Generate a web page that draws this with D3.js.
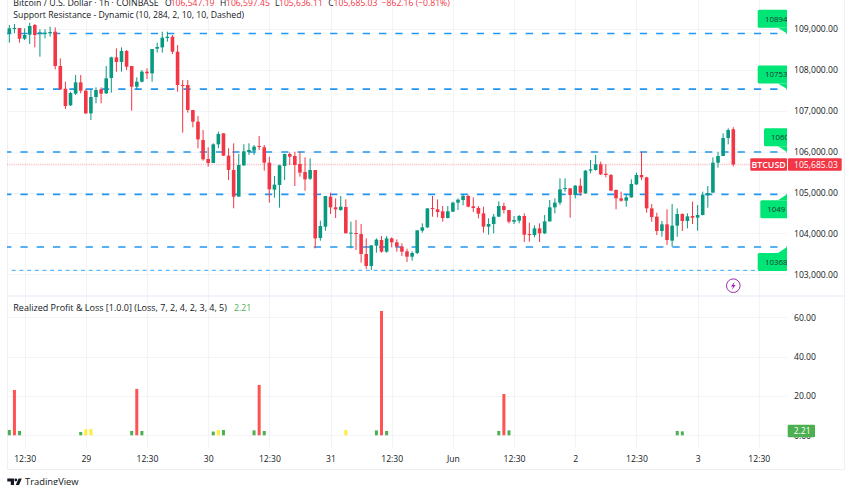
<!DOCTYPE html>
<html>
<head>
<meta charset="utf-8">
<title>BTCUSD</title>
<script src="https://cdn.jsdelivr.net/npm/d3@7/dist/d3.min.js"></script>
<style>
  html, body { margin: 0; padding: 0; background: #fff; overflow: hidden; }
  svg { display: block; font-family: "Open Sans", sans-serif; }
</style>
</head>
<body>
<div id="chart"></div>
<script>
// candles, one hour each
const opens = [
  108894,109008,109024,108763,108861,109097,108886,108877,108894,108934,
  108095,107540,107133,107418,107695,107491,106937,107336,107524,107426,
  107801,108307,108193,108462,108095,107589,107711,107956,107915,108519,
  108551,108780,108812,108445,107630,107630,107019,106733,106285,105821,
  105723,106179,106448,105902,105552,104899,105666,105992,106025,106139,
  106106,105731,105071,105185,105649,105942,105893,105698,105502,105339,
  105551,103888,104165,104899,104638,104572,104646,104002,104010,103985,
  103496,103203,103700,103839,103553,103879,103782,103676,103561,103431,
  103521,104067,104148,104621,104589,104540,104377,104532,104752,104817,
  104915,104662,104621,104491,104165,104230,104409,104670,104572,104287,
  104312,104426,103985,103961,104124,104002,104295,104638,104752,105090,
  105103,104940,105168,104980,105535,105551,105690,105461,105429,105062,
  104858,104801,104882,105200,105429,105372,104613,104410,104059,104222,
  103823,104190,104475,104304,104426,104385,104450,104931,104997,105730,
  105893,106334,106547.19
];
const highs = [
  109097,109122,109024,109016,109155,109122,108992,108992,109057,109040,
  108282,107711,107467,107875,107875,107524,107508,107573,107573,108095,
  108323,108527,108551,108486,108095,107817,107997,108038,108510,108665,
  108934,108934,108853,108608,107752,107752,107019,106872,106530,106106,
  106204,106489,106448,106082,106204,105943,106179,106204,106163,106383,
  106163,105878,105405,105680,105950,105980,105999,105999,105861,105836,
  105551,104312,104915,104996,104858,104915,104833,104287,104328,104230,
  103879,103708,103879,103936,103936,103904,103855,103757,103627,103561,
  104083,104246,104613,104915,104833,104670,104670,104776,104858,104964,
  104947,104882,104670,104654,104369,104475,104784,104752,104572,104426,
  104450,104491,104263,104197,104246,104450,104817,104858,105347,105348,
  105103,105184,105347,105551,105796,105918,105755,105690,105453,105078,
  105021,104964,105323,105486,105991,105388,104719,104507,104304,104589,
  104719,104613,104491,104491,104777,104695,105021,105160,105861,105999,
  106448,106570,106597.45
];
const lows = [
  108665,108894,108665,108731,108633,108551,108323,108771,108812,108013,
  107508,107043,107116,107385,107426,106921,106774,107182,107182,107410,
  107442,107956,107956,107997,107002,107524,107695,107777,107711,108421,
  108421,108690,108388,107467,106464,106953,106595,106081,105780,105633,
  105723,106082,105894,105307,104614,104899,105649,105919,105919,106041,
  105535,104753,104875,104630,105306,105673,105159,105388,105045,105306,
  103635,103822,104067,104475,104377,104556,104002,103635,103594,103284,
  103129,103105,103529,103529,103529,103659,103553,103447,103301,103333,
  103496,104018,104132,104409,104393,104287,104369,104524,104572,104687,
  104638,104524,104369,104018,103969,104002,104409,104491,104246,104230,
  104246,103790,103798,103904,103790,103985,104287,104491,104695,105020,
  104385,104858,104923,104964,105470,105535,105429,105372,105046,104589,
  104777,104654,104874,105184,105306,104507,104287,103961,103920,103717,
  103676,103920,104059,104124,104230,104067,104442,104630,104997,105608,
  105893,106179,105636.11
];
const closes = [
  109016,109024,108763,108853,109073,108853,108918,108910,108926,108095,
  107524,107116,107434,107695,107491,106937,107336,107508,107418,107793,
  108307,108193,108462,108078,107589,107711,107956,107915,108510,108559,
  108788,108812,108445,107630,107613,107019,106733,106301,105813,105723,
  106179,106432,105902,105552,104899,105674,106008,106041,106122,106122,
  105731,105079,105193,105666,105942,105877,105673,105486,105323,105551,
  103879,104181,104915,104638,104589,104654,104002,104018,103985,103496,
  103203,103708,103847,103553,103879,103782,103676,103553,103431,103521,
  104075,104148,104613,104605,104524,104377,104540,104752,104825,104915,
  104654,104621,104483,104165,104230,104409,104670,104572,104287,104328,
  104426,103969,103969,104124,104002,104295,104638,104752,105078,105110,
  104940,105168,104997,105535,105567,105690,105445,105429,105046,104858,
  104801,104882,105209,105429,105372,104613,104401,104059,104222,103839,
  104190,104475,104304,104418,104385,104450,104948,104988,105730,105893,
  106334,106529,105685.03
];

// support / resistance levels and what their tags show
const levels = [108890, 107530, 105990, 104956, 103668];
const levelTags = ["10894", "10753", "1060", "1049", "10368"];
const lowestLevel = 103097;

// realized profit and loss bars: candle index, value, kind
const pnlIndex = [0,1,2,14,15,16,24,25,26,40,41,42,48,49,50,66,72,73,74,96,97,98,131,132];
const pnlValue = [2.7,23.05,2.2,1.7,3.05,3.2,2.2,23.6,2.2,1.9,2.7,2.7,2.5,25.6,2.2,2.7,2.5,63.2,2.2,2.2,21,2.5,2.2,2];
const pnlKind = ["g","r","g","g","y","y","g","r","g","g","y","g","g","r","g","y","g","r","g","g","r","g","g","g"];

const priceTicks = [103000,104000,105000,106000,107000,108000,109000];
const pnlTicks = [0,20,40,60];
const timeTicks = [3,15,27,39,51,63,75,87,99,111,123,135,147];
const timeLabels = ["12:30","29","12:30","30","12:30","31","12:30","Jun","12:30","2","12:30","3","12:30"];

const lastPrice = closes[closes.length - 1];
const lastPnl = 2.21;

const width = 852, height = 485;
const paneLeft = 7, paneRight = 787, frameRight = 844, frameBottom = 469, gridBottom = 448, divider = 296;

const fmt = d3.format(",.2f");
const UP = "#089981", DOWN = "#f23645", INK = "#131722", GRID = "#f3f4f7";

const x = d3.scaleLinear().domain([0, 142]).range([9.33, 733.3]);
const y = d3.scaleLinear().domain([103000, 109000]).range([274.3, 29]);
const yPnl = d3.scaleLinear().domain([0, 60]).range([435.3, 317.3]);

const svg = d3.select("#chart").append("svg")
  .attr("width", width)
  .attr("height", height)
  .style("background", "#fff");

svg.append("defs").append("clipPath").attr("id", "pane")
  .append("rect").attr("x", paneLeft).attr("y", 0).attr("width", paneRight - paneLeft).attr("height", height);

// grid
const grid = svg.append("g").attr("stroke", GRID).attr("stroke-width", 1);
grid.selectAll(".v").data(timeTicks).join("line")
  .attr("class", "v")
  .attr("x1", d => Math.round(x(d)) + .5).attr("x2", d => Math.round(x(d)) + .5)
  .attr("y1", 0).attr("y2", gridBottom);
grid.selectAll(".h").data(priceTicks).join("line")
  .attr("class", "h")
  .attr("x1", paneLeft).attr("x2", paneRight)
  .attr("y1", d => Math.round(y(d)) + .5).attr("y2", d => Math.round(y(d)) + .5);
grid.selectAll(".p").data(pnlTicks).join("line")
  .attr("class", "p")
  .attr("x1", paneLeft).attr("x2", paneRight)
  .attr("y1", d => Math.round(yPnl(d)) + .5).attr("y2", d => Math.round(yPnl(d)) + .5);

// frame and pane divider
svg.append("path")
  .attr("d", `M${paneLeft + .5} 0V${frameBottom + .5}H${frameRight + .5}V0`)
  .attr("fill", "none").attr("stroke", "#eef0f3");
svg.append("rect").attr("x", paneLeft).attr("y", divider - 1)
  .attr("width", frameRight - paneLeft).attr("height", 2).attr("fill", "#f0f3fa");

// last price dotted line
svg.append("line")
  .attr("x1", paneLeft).attr("x2", paneRight)
  .attr("y1", y(lastPrice)).attr("y2", y(lastPrice))
  .attr("stroke", DOWN).attr("stroke-opacity", .3).attr("stroke-width", 1.4).attr("stroke-dasharray", "1.2 1");

// levels
svg.append("g").selectAll("line").data(levels).join("line")
  .attr("x1", paneLeft).attr("x2", paneRight)
  .attr("y1", d => y(d)).attr("y2", d => y(d))
  .attr("stroke", "#2196f3").attr("stroke-width", 1.6)
  .attr("stroke-dasharray", "7.3 9").attr("stroke-dashoffset", 2.9);
svg.append("line")
  .attr("x1", 11.7).attr("x2", paneRight)
  .attr("y1", y(lowestLevel)).attr("y2", y(lowestLevel))
  .attr("stroke", "#42a5f5").attr("stroke-dasharray", "4 3.7");

// candles
const candles = opens.map((o, i) => ({ i, o, h: highs[i], l: lows[i], c: closes[i] }));
const candle = svg.append("g").selectAll("g").data(candles).join("g")
  .attr("fill", d => d.c >= d.o ? UP : DOWN);
candle.append("rect")
  .attr("x", d => x(d.i) - .5).attr("width", 1)
  .attr("y", d => y(d.h)).attr("height", d => y(d.l) - y(d.h));
candle.append("rect")
  .attr("x", d => x(d.i) - 1.8).attr("width", 3.6)
  .attr("y", d => y(Math.max(d.o, d.c)))
  .attr("height", d => Math.max(1, Math.abs(y(d.o) - y(d.c))));

// tags on the levels, clipped by the pane edge
const tagLeft = [757.7, 757.7, 764, 760.3, 757.7];
const tagTextLeft = [765, 765, 771, 767.3, 765];
const tags = svg.append("g").attr("clip-path", "url(#pane)");
levels.forEach((lv, i) => {
  const ly = y(lv);
  const above = i < 3;
  const top = above ? ly - 23.7 : ly + 6;
  const tipBase = above ? top + 18 : top;
  tags.append("rect").attr("x", tagLeft[i]).attr("y", top)
    .attr("width", paneRight - tagLeft[i] + 8).attr("height", 18).attr("rx", 1.5).attr("fill", "#00e676");
  tags.append("path")
    .attr("d", `M${paneRight - 9} ${tipBase}L${paneRight} ${ly}L${paneRight + 9} ${tipBase}Z`)
    .attr("fill", "#00e676");
  tags.append("text").attr("x", tagTextLeft[i]).attr("y", top + 12)
    .attr("font-size", 7.9).attr("fill", "#1b3a30").text(levelTags[i]);
});

// price axis
const yAxis = d3.axisRight(y).tickValues(priceTicks).tickFormat(fmt).tickSize(0).tickPadding(7);
svg.append("g").attr("transform", `translate(${paneRight},0)`).call(yAxis)
  .call(g => g.select(".domain").remove())
  .call(g => g.selectAll("text").attr("font-size", 8.6).attr("fill", INK).attr("font-family", "Open Sans"));

// last price tag
const tagY = y(lastPrice);
svg.append("rect").attr("x", 750.3).attr("y", tagY - 6.3).attr("width", 36.7).attr("height", 12.6).attr("rx", 1).attr("fill", DOWN);
svg.append("rect").attr("x", 788).attr("y", tagY - 6.3).attr("width", 53.7).attr("height", 12.6).attr("rx", 1).attr("fill", DOWN);
svg.append("text").attr("x", 768.6).attr("y", tagY + 3).attr("text-anchor", "middle")
  .attr("font-size", 8.8).attr("font-weight", 600).attr("fill", "#fff").text("BTCUSD");
svg.append("text").attr("x", 794).attr("y", tagY + 3)
  .attr("font-size", 8.6).attr("fill", "#fff").text(fmt(lastPrice));

// lightning badge
const badge = svg.append("g").attr("transform", "translate(733.3,285.7)");
badge.append("circle").attr("r", 6.8).attr("fill", "#fff").attr("stroke", "#9c27b0").attr("stroke-width", 1);
badge.append("path").attr("d", "M1.4-4L-2.4 .8H-.2L-1.4 4L2.4-.8H.2Z").attr("fill", "#9c27b0");

// pnl bars
const pnlColor = { r: "#ff5252", g: "#4caf50", y: "#ffeb3b" };
svg.append("g").selectAll("rect").data(pnlIndex).join("rect")
  .attr("x", d => x(d) - 1.5).attr("width", 3)
  .attr("y", (d, i) => yPnl(pnlValue[i]))
  .attr("height", (d, i) => yPnl(0) - yPnl(pnlValue[i]))
  .attr("fill", (d, i) => pnlColor[pnlKind[i]]);

// pnl axis
const pnlAxis = d3.axisRight(yPnl).tickValues(pnlTicks).tickFormat(d3.format(".2f")).tickSize(0).tickPadding(7);
svg.append("g").attr("transform", `translate(${paneRight},0)`).call(pnlAxis)
  .call(g => g.select(".domain").remove())
  .call(g => g.selectAll("text").attr("font-size", 8.6).attr("fill", INK).attr("font-family", "Open Sans"));

svg.append("rect").attr("x", 787.7).attr("y", yPnl(lastPnl) - 6.3).attr("width", 27.3).attr("height", 12.6).attr("rx", 1).attr("fill", "#4caf50");
svg.append("text").attr("x", 793.7).attr("y", yPnl(lastPnl) + 3).attr("font-size", 8.6).attr("fill", "#fff").text(lastPnl);

// time axis
const xAxis = d3.axisBottom(x).tickValues(timeTicks).tickFormat((d, i) => timeLabels[i]).tickSize(0).tickPadding(8);
svg.append("g").attr("transform", `translate(0,${gridBottom})`).call(xAxis)
  .call(g => g.select(".domain").remove())
  .call(g => g.selectAll("text").attr("font-size", 8.6).attr("fill", INK).attr("font-family", "Open Sans"));

// legends
const legend = [
  ["Bitcoin / U.S. Dollar · 1h · COINBASE", 13.3, INK],
  ["O", 165, INK], [fmt(opens[142]), 170.7, DOWN],
  ["H", 220, INK], [fmt(highs[142]), 226, DOWN],
  ["L", 275, INK], [fmt(lows[142]), 279, DOWN],
  ["C", 328.3, INK], [fmt(closes[142]), 333.6, DOWN],
  ["−862.16 (−0.81%)", 381.7, DOWN]
];
svg.append("g").selectAll("text").data(legend).join("text")
  .attr("x", d => d[1]).attr("y", 5.8)
  .attr("font-size", d => d[0].startsWith("Bitcoin") ? 8.8 : 8.6).attr("fill", d => d[2]).text(d => d[0]);
svg.append("text").attr("x", 13.3).attr("y", 18)
  .attr("font-size", 8.7).attr("fill", INK).text("Support Resistance - Dynamic (10, 284, 2, 10, 10, Dashed)");
svg.append("text").attr("x", 13.3).attr("y", 310.7)
  .attr("font-size", 9).attr("fill", INK).text("Realized Profit & Loss [1.0.0] (Loss, 7, 2, 4, 2, 3, 4, 5)");
svg.append("text").attr("x", 234).attr("y", 310.7)
  .attr("font-size", 8.8).attr("fill", "#4caf50").text(lastPnl);

// logo
svg.append("path").attr("d", "M7.3 478.5h6.7v6.5h-3.2v-3.4h-3.5z").attr("fill", INK);
svg.append("circle").attr("cx", 15.8).attr("cy", 480).attr("r", 1.4).attr("fill", INK);
svg.append("path").attr("d", "M18.6 478.5h3.2l-2.8 6.5h-3.2z").attr("fill", INK);
svg.append("text").attr("x", 25).attr("y", 485).attr("font-size", 9.4).attr("fill", INK).text("TradingView");
</script>
</body>
</html>
